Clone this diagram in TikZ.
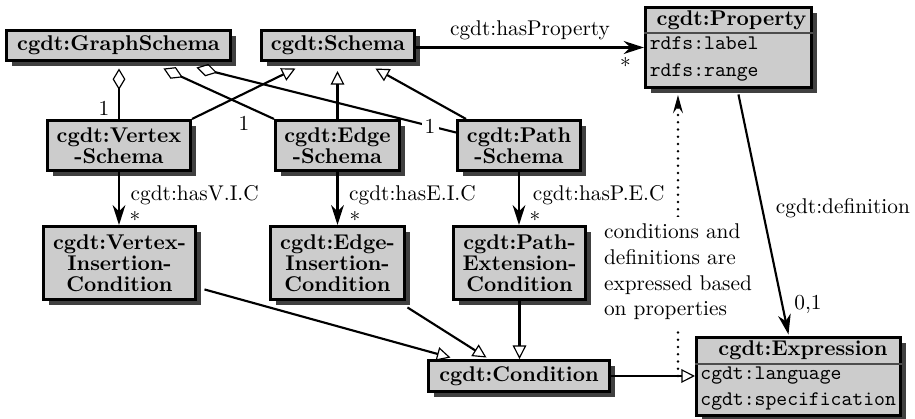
\documentclass[tikz,border=0pt]{standalone}
\usetikzlibrary{arrows.meta,shadows,calc}
\begin{document}
\begin{tikzpicture}[x=0.469pt,y=-0.469pt]
\tikzset{
 cls/.style={draw, line width=1.4pt, fill=black!20, inner sep=0pt,
   drop shadow={shadow xshift=2.4pt, shadow yshift=-2.4pt, fill=black!75, opacity=1},
   font=\bfseries\fontsize{10}{9.9}\selectfont, align=center},
 conn/.style={line width=1pt},
 agg/.style={conn, {Diamond[open,length=10pt,width=6pt,line width=0.55pt]}-},
 gen/.style={conn, -{Triangle[open,length=6.4pt,width=6.4pt,line width=0.55pt]}},
 assoc/.style={conn, -{Stealth[length=9.4pt,width=6pt,inset=3pt]}},
 lbl/.style={inner sep=0pt, font=\fontsize{10}{12}\selectfont},
 attr/.style={inner sep=0pt, font=\ttfamily\fontsize{9.7}{12.2}\selectfont, align=left, anchor=west},
 sep/.style={black!70, line width=0.5pt},
 note/.style={fill=white, align=left, font=\fontsize{10}{12}\selectfont},
}
\useasboundingbox (0,0) rectangle (915,419);

% classes
\node[cls, minimum width=105.1pt, minimum height=14.1pt] (gs) at (118.5,45.5) {cgdt:GraphSchema};
\node[cls, minimum width=71.8pt, minimum height=14.1pt] (sch) at (338,45.5) {cgdt:Schema};
\node[cls, minimum width=77.9pt, minimum height=37.5pt] (prop) at (728.5,47.5) {};
\node[cls, minimum width=67.1pt, minimum height=23.5pt] (vs) at (119,145.5) {cgdt:Vertex\\-Schema};
\node[cls, minimum width=58.2pt, minimum height=23.5pt] (es) at (337.5,145.5) {cgdt:Edge\\-Schema};
\node[cls, minimum width=57.7pt, minimum height=23.5pt] (ps) at (519,145.5) {cgdt:Path\\-Schema};
\node[cls, minimum width=71.3pt, minimum height=34.2pt] (vic) at (119.5,263) {cgdt:Vertex-\\Insertion-\\Condition};
\node[cls, minimum width=62.8pt, minimum height=34.2pt] (eic) at (337.5,263) {cgdt:Edge-\\Insertion-\\Condition};
\node[cls, minimum width=61.9pt, minimum height=34.2pt] (pec) at (519.5,263) {cgdt:Path-\\Extension-\\Condition};
\node[cls, minimum width=84.9pt, minimum height=14.5pt] (cond) at (519,376) {cgdt:Condition};
\node[cls, minimum width=95.7pt, minimum height=36.6pt] (expr) at (798.5,376.5) {};

% Property compartments
\draw[sep] (prop.west |- 0,33) -- (prop.east |- 0,33);
\node[lbl, font=\bfseries] (proph) at ($(prop.north)+(3,14)$) {cgdt:Property};
\node[attr] (propb) at ($(prop.west)+(5.5,11.5)$) {rdfs:label\\rdfs:range};

% Expression compartments
\draw[sep] (expr.west |- 0,364) -- (expr.east |- 0,364);
\node[lbl, font=\bfseries] (exprh) at ($(expr.north)+(4.5,14)$) {cgdt:Expression};
\node[attr] (exprb) at ($(expr.west)+(5,12.5)$) {cgdt:language\\cgdt:specification};

% aggregations
\draw[agg] ($(gs.south -| vs.north)+(0,6.5)$) -- node[lbl, pos=0.79, left=4pt] {1} (vs.north);
\draw[agg] ($(gs.south west)+(158.5,6.5)$) -- node[lbl, at end, shift={(-30,4.5)}] {1} (es.north west);
\draw[agg] ($(gs.south west)+(191.5,5.5)$) -- node[lbl, pos=0.9, fill=white, inner sep=1.5pt] {1} ($(ps.west)+(0,-13)$);

% generalizations to Schema
\draw[gen] (vs.north east) -- ($(sch.south west)+(35.5,6.5)$);
\draw[gen] (es.north) -- ($(es.north |- sch.south)+(0,9)$);
\draw[gen] ($(ps.north west)+(10,0)$) -- ($(sch.south west)+(115.5,6.5)$);

% hasProperty
\draw[assoc, line width=1.4pt] ($(sch.east)+(0,2)$) --
  node[lbl, above=2.8pt] {cgdt:hasProperty}
  node[lbl, at end, shift={(-18.5,18)}] {*}
  ($(sch.east -| prop.west)+(0,2)$);

% has...C associations
\draw[assoc] (vs.south) --
  node[lbl, pos=0.44, right=5pt] {cgdt:hasV.I.C}
  node[lbl, at end, shift={(16,-6)}] {*}
  (vs.south |- vic.north);
\draw[assoc] (es.south) --
  node[lbl, pos=0.44, right=5pt] {cgdt:hasE.I.C}
  node[lbl, at end, shift={(17.5,-6)}] {*}
  (es.south |- eic.north);
\draw[assoc] (ps.south) --
  node[lbl, pos=0.44, right=6pt] {cgdt:hasP.E.C}
  node[lbl, at end, shift={(16,-6)}] {*}
  (ps.south |- pec.north);

% generalizations to Condition
\draw[gen] ($(vic.south east)+(7.5,-11.5)$) -- ($(cond.north west)+(23.5,-1.5)$);
\draw[gen] ($(eic.south east)+(1.5,6.5)$) -- ($(cond.north west)+(59.5,-1.5)$);
\draw[gen] (pec.south) -- (pec.south |- cond.north);
\draw[gen] (cond.east) -- (cond.east -| expr.west);

% definition
\draw[assoc] ($(prop.south west)+(94.5,5.5)$) --
  node[lbl, pos=0.473, right=6pt] {cgdt:definition}
  node[lbl, at end, shift={(19.5,-30)}] {0,1}
  ($(expr.north west)+(93.5,-1.5)$);

% dotted note
\coordinate (dotbase) at ($(cond.east -| expr.west)+(-17,0)$);
\draw[line width=1.3pt, line cap=round, dash pattern=on 0pt off 3.4pt,
  -{Stealth[length=8.5pt,width=4.6pt,inset=3pt]}] (dotbase) --
  node[note, pos=0.37] (notetext) {conditions and\\definitions are\\expressed based\\on properties}
  ($(dotbase |- prop.south)+(0,6)$);
\end{tikzpicture}
\end{document}
